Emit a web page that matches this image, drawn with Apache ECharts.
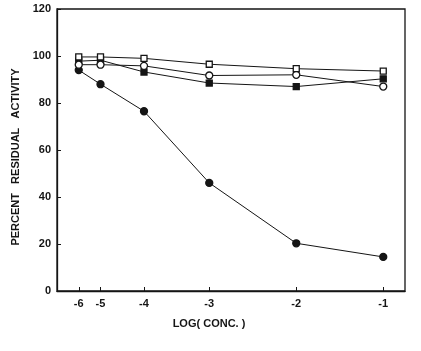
<!DOCTYPE html>
<html>
<head>
<meta charset="utf-8">
<script src="https://cdn.jsdelivr.net/npm/echarts@6/dist/echarts.min.js"></script>
<style>
  html, body { margin: 0; padding: 0; background: #fff; }
  #main { width: 421px; height: 351px; }
</style>
</head>
<body>
<div id="main"></div>
<script>
// log concentrations and where each one sits along the (uneven) x scale
const logConc = [-6, -5, -4, -3, -2, -1]
const xPos = [1, 2, 4, 7, 11, 15]
const xLabels = ['-6', '-5', '-4', '-3', '-2', '-1']
const yTicks = [0, 20, 40, 60, 80, 100, 120]

// percent residual activity
const filledCircle = [94, 88, 76.5, 46, 20.3, 14.5]
const openSquare = [99.6, 99.6, 99, 96.5, 94.6, 93.6]
const openCircle = [96.3, 96.3, 95.8, 91.7, 92, 87]
const filledSquare = [97.8, 98.2, 93.2, 88.5, 87, 90.3]

const pos = v => xPos[logConc.indexOf(v)]
const toPoints = vals => logConc.map((c, i) => [pos(c), vals[i]])

const chartDom = document.getElementById('main')
const myChart = echarts.init(chartDom)

const ink = '#151515'
const font = '"Liberation Sans", Arial, sans-serif'

const mkSeries = (name, vals, symbol, filled, size) => ({
  name: name,
  type: 'line',
  data: toPoints(vals),
  symbol: symbol,
  symbolSize: size,
  showAllSymbol: true,
  lineStyle: { color: ink, width: 1 },
  itemStyle: {
    color: filled ? ink : '#fff',
    borderColor: ink,
    borderWidth: 1.3
  },
  animation: false
})

const option = {
  backgroundColor: '#fff',
  grid: {
    left: 57, right: 16, top: 9, bottom: 60,
    show: true, borderColor: ink, borderWidth: 1.3
  },
  xAxis: {
    type: 'value',
    min: 0,
    max: 16,
    name: 'LOG( CONC. )',
    nameLocation: 'middle',
    nameGap: 27,
    nameTextStyle: {
      color: ink, fontFamily: font, fontWeight: 'bold', fontSize: 11,
      padding: [0, 44, 0, 0]
    },
    axisLine: { lineStyle: { color: ink, width: 1.3 } },
    axisTick: { inside: true, length: 4, customValues: xPos, lineStyle: { color: ink } },
    axisLabel: {
      customValues: xPos,
      formatter: v => xLabels[xPos.indexOf(v)],
      color: ink, fontFamily: font, fontWeight: 'bold', fontSize: 11, margin: 7
    },
    splitLine: { show: false }
  },
  yAxis: {
    type: 'value',
    min: yTicks[0],
    max: yTicks[yTicks.length - 1],
    interval: 20,
    name: 'PERCENT   RESIDUAL   ACTIVITY',
    nameLocation: 'middle',
    nameGap: 32,
    nameTextStyle: {
      color: ink, fontFamily: font, fontWeight: 'bold', fontSize: 11,
      padding: [0, 14, 0, 0]
    },
    axisLine: { show: true, lineStyle: { color: ink, width: 1.3 } },
    axisTick: { show: true, inside: true, length: 4, lineStyle: { color: ink } },
    axisLabel: { color: ink, fontFamily: font, fontWeight: 'bold', fontSize: 11, margin: 6 },
    splitLine: { show: false }
  },
  series: [
    mkSeries('filled circle', filledCircle, 'circle', true, 7),
    mkSeries('filled square', filledSquare, 'rect', true, 6),
    mkSeries('open circle', openCircle, 'circle', false, 7),
    mkSeries('open square', openSquare, 'rect', false, 6)
  ]
}

myChart.setOption(option)
</script>
</body>
</html>
